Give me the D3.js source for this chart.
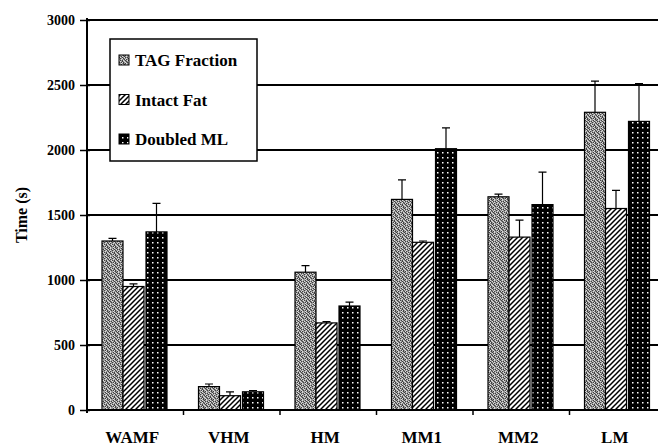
<!DOCTYPE html>
<meta charset="utf-8">
<style>
body { margin: 0; background: #fff; }
svg text { font-family: "Times New Roman", Times, "Liberation Serif", "DejaVu Serif", "Noto Serif", serif; font-weight: bold; fill: #000; }
</style>
<svg width="658" height="448"></svg>
<script src="https://d3js.org/d3.v7.min.js"></script>
<script>

// data
var categories = ["WAMF", "VHM", "HM", "MM1", "MM2", "LM"];
var seriesNames = ["TAG Fraction", "Intact Fat", "Doubled ML"];
var tagFraction = [1300, 180, 1060, 1620, 1640, 2290];
var intactFat   = [950, 110, 670, 1290, 1330, 1550];
var doubledML   = [1370, 140, 800, 2010, 1580, 2220];
var tagErr      = [20, 20, 50, 150, 20, 240];
var intactErr   = [20, 30, 10, 10, 130, 140];
var doubledErr  = [220, 10, 30, 160, 250, 290];
var yTicks = [0, 500, 1000, 1500, 2000, 2500, 3000];

var series = [tagFraction, intactFat, doubledML];
var errs = [tagErr, intactErr, doubledErr];

var svg = d3.select("svg");
var pLeft = 87, pRight = 666, pTop = 20, pBottom = 410;

var x = d3.scaleBand().domain(categories).range([pLeft, pRight]);
var y = d3.scaleLinear().domain([0, 3000]).range([pBottom, pTop]);

// patterns
var defs = svg.append("defs");
var stipMap = ["gkwgkgwg", "wgkgwkgk", "kgwkggwg", "gwggkwkg",
               "kgkwgkgw", "wgkgwgkg", "gkwkgwgk", "gwgkgkwg"];
var stipCol = { k: "#404040", g: "#969696", w: "#dcdcdc" };
var p1 = defs.append("pattern").attr("id", "stip").attr("patternUnits", "userSpaceOnUse")
    .attr("width", 8).attr("height", 8);
stipMap.forEach(function(row, r) {
  row.split("").forEach(function(c, k) {
    p1.append("rect").attr("x", k).attr("y", r).attr("width", 1).attr("height", 1).attr("fill", stipCol[c]);
  });
});

var p2 = defs.append("pattern").attr("id", "hatch").attr("patternUnits", "userSpaceOnUse")
    .attr("width", 5).attr("height", 5);
p2.append("rect").attr("width", 5).attr("height", 5).attr("fill", "#fff");
p2.append("path").attr("d", "M-1,6 L6,-1 M-1,1 L1,-1 M4,6 L6,4")
    .attr("stroke", "#000").attr("stroke-width", 1.5);

var p3 = defs.append("pattern").attr("id", "dots").attr("patternUnits", "userSpaceOnUse")
    .attr("width", 5).attr("height", 5);
p3.append("rect").attr("width", 5).attr("height", 5).attr("fill", "#000");
p3.append("rect").attr("x", 2).attr("y", 2).attr("width", 1.5).attr("height", 1.5).attr("fill", "#fff");

var fills = ["url(#stip)", "url(#hatch)", "url(#dots)"];

// gridlines
svg.append("g").selectAll("line").data(yTicks.slice(1)).join("line")
    .attr("x1", pLeft).attr("x2", 658)
    .attr("y1", function(d) { return y(d); }).attr("y2", function(d) { return y(d); })
    .attr("stroke", "#000").attr("stroke-width", 2);

// bars
var barW = 21, gap = [0, 21, 44], offset = 15;
series.forEach(function(vals, si) {
  var g = svg.append("g");
  g.selectAll("rect").data(vals).join("rect")
      .attr("x", function(d, i) { return x(categories[i]) + offset + gap[si]; })
      .attr("y", function(d) { return y(d); })
      .attr("width", barW)
      .attr("height", function(d) { return pBottom - y(d); })
      .attr("fill", fills[si])
      .attr("stroke", "#000").attr("stroke-width", 1.2);
  g.selectAll("path").data(vals).join("path")
      .attr("d", function(d, i) {
        var cx = x(categories[i]) + offset + gap[si] + barW / 2;
        var yt = y(d + errs[si][i]);
        return "M" + cx + "," + y(d) + "V" + yt + "M" + (cx - 4) + "," + yt + "H" + (cx + 4);
      })
      .attr("stroke", "#000").attr("stroke-width", 1.2).attr("fill", "none");
});

// y axis
var yAxis = svg.append("g").attr("transform", "translate(" + pLeft + ",0)")
    .call(d3.axisLeft(y).tickValues(yTicks).tickSize(7).tickPadding(5).tickFormat(d3.format("d")));
yAxis.select(".domain").remove();
yAxis.attr("font-family", null).attr("font-size", null);
yAxis.selectAll(".tick text").style("font-size", "14px");
yAxis.selectAll(".tick line").attr("x2", -7).attr("x1", 3).attr("stroke-width", 1.5);
svg.append("line").attr("x1", pLeft).attr("x2", pLeft).attr("y1", pTop - 2).attr("y2", pBottom + 3)
    .attr("stroke", "#000").attr("stroke-width", 2);

// x axis
svg.append("line").attr("x1", pLeft).attr("x2", 658).attr("y1", pBottom).attr("y2", pBottom)
    .attr("stroke", "#000").attr("stroke-width", 2);
svg.append("g").selectAll("line").data(categories.slice(1)).join("line")
    .attr("x1", function(d) { return x(d); }).attr("x2", function(d) { return x(d); })
    .attr("y1", pBottom).attr("y2", pBottom + 5)
    .attr("stroke", "#000").attr("stroke-width", 1.5);
svg.append("g").selectAll("text").data(categories).join("text")
    .attr("x", function(d) { return x(d) + x.bandwidth() / 2 - 3; })
    .attr("y", 443)
    .attr("text-anchor", "middle")
    .style("font-size", "17px")
    .text(function(d) { return d; });

svg.append("text").attr("transform", "translate(27,215) rotate(-90)")
    .attr("text-anchor", "middle").style("font-size", "16px").text("Time (s)");

// legend
var lg = svg.append("g");
lg.append("rect").attr("x", 110).attr("y", 39).attr("width", 147).attr("height", 122)
    .attr("fill", "#fff").attr("stroke", "#000").attr("stroke-width", 1.5);
seriesNames.forEach(function(name, i) {
  var cy = 60 + i * 39.5;
  lg.append("rect").attr("x", 119).attr("y", cy - 5).attr("width", 10).attr("height", 10)
      .attr("fill", fills[i]).attr("stroke", "#000").attr("stroke-width", 1);
  lg.append("text").attr("x", 135).attr("y", cy + 6).style("font-size", "17px").text(name);
});

</script>
